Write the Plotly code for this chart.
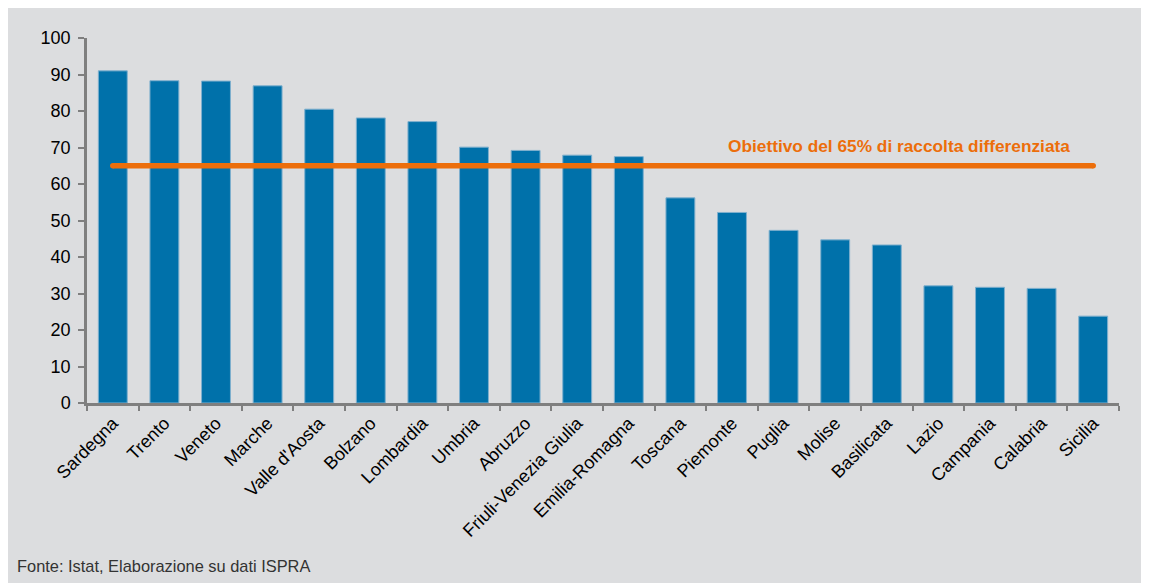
import plotly.graph_objects as go

# raccolta differenziata per regione (%)
regioni = ["Sardegna", "Trento", "Veneto", "Marche", "Valle d'Aosta", "Bolzano",
           "Lombardia", "Umbria", "Abruzzo", "Friuli-Venezia Giulia", "Emilia-Romagna",
           "Toscana", "Piemonte", "Puglia", "Molise", "Basilicata", "Lazio",
           "Campania", "Calabria", "Sicilia"]
percentuali = [91.0, 88.3, 88.2, 86.9, 80.5, 78.1, 77.1, 70.1, 69.2, 67.9, 67.5,
               56.2, 52.2, 47.3, 44.7, 43.3, 32.1, 31.7, 31.4, 23.8]
obiettivo = 65
y_ticks = [0, 10, 20, 30, 40, 50, 60, 70, 80, 90, 100]

BLU = "#0071AA"
ARANCIO = "#EC6E0B"
GRIGIO_BG = "#DCDDDF"
FONT = "Liberation Sans, Arial, sans-serif"

fig = go.Figure()

fig.add_trace(go.Bar(
    x=regioni, y=percentuali,
    marker=dict(color=BLU, line=dict(color="#7FB0CE", width=1)),
    showlegend=False,
))

# linea obiettivo 65%
fig.add_trace(go.Scatter(
    x=[regioni[0], regioni[-1]], y=[obiettivo, obiettivo],
    mode="lines+markers",
    line=dict(color=ARANCIO, width=5.5),
    marker=dict(color=ARANCIO, size=5.5),
    showlegend=False,
))

fig.update_xaxes(
    range=[-0.5, len(regioni) - 0.5],
    showline=True, linecolor="#7F7F7F", linewidth=2.5,
    ticks="outside", tickson="boundaries", ticklen=5, tickwidth=2, tickcolor="#7F7F7F",
    tickangle=-45, tickfont=dict(family=FONT, size=18, color="#000000"),
    showgrid=False,
)
fig.update_yaxes(
    range=[0, 100], tickvals=y_ticks,
    showline=True, linecolor="#7F7F7F", linewidth=2.5,
    ticks="outside", ticklen=6, tickwidth=2, tickcolor="#7F7F7F",
    ticklabelstandoff=4,
    tickfont=dict(family=FONT, size=18, color="#000000"),
    showgrid=False, zeroline=False,
)

fig.update_layout(
    width=1141, height=575,
    margin=dict(l=79, r=30, t=30, b=180),
    bargap=0.44,
    paper_bgcolor=GRIGIO_BG,
    plot_bgcolor=GRIGIO_BG,
    font=dict(family=FONT),
    annotations=[
        dict(text="<b>Obiettivo del 65% di raccolta differenziata</b>",
             xref="x", yref="y", x=15.24, y=70.4, xanchor="center", yanchor="middle",
             showarrow=False, font=dict(family=FONT, size=17.3, color=ARANCIO)),
        dict(text="Fonte: Istat, Elaborazione su dati ISPRA",
             xref="paper", yref="paper", x=-0.0698, y=-0.447, xanchor="left", yanchor="middle",
             showarrow=False,
             font=dict(family="Liberation Sans Narrow, Arial Narrow, Liberation Sans, sans-serif",
                       size=16.4, color="#333333")),
    ],
)

fig.write_html("out.html", default_width="1141px", default_height="575px")
